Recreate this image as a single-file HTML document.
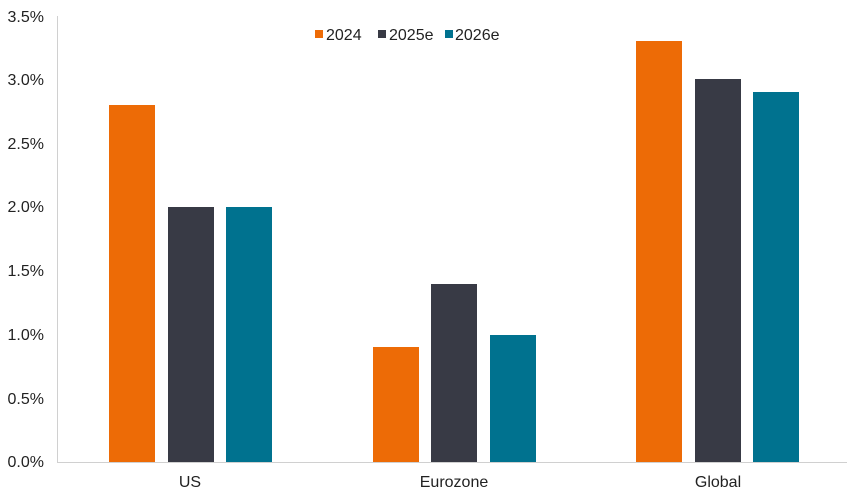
<!DOCTYPE html>
<html><head><style>body{margin:0;background:#fff}</style></head><body>
<svg width="854" height="497" xmlns="http://www.w3.org/2000/svg" font-family="Liberation Sans, sans-serif" font-size="16" fill="#222">
<line x1="57.5" y1="16" x2="57.5" y2="462" stroke="#d0d0d0"/>
<line x1="57" y1="462.5" x2="847" y2="462.5" stroke="#d0d0d0"/>
<g text-anchor="end">
<text x="44" y="22">3.5%</text><text x="44" y="85">3.0%</text><text x="44" y="149">2.5%</text><text x="44" y="212">2.0%</text><text x="44" y="276">1.5%</text><text x="44" y="340">1.0%</text><text x="44" y="404">0.5%</text><text x="44" y="467">0.0%</text>
</g>
<g fill="#ED6B06">
<rect x="109" y="105" width="46" height="357"/><rect x="373" y="347" width="46" height="115"/><rect x="636" y="41" width="46" height="421"/>
</g>
<g fill="#383A45">
<rect x="168" y="207" width="46" height="255"/><rect x="431" y="284" width="46" height="178"/><rect x="695" y="79" width="46" height="383"/>
</g>
<g fill="#00728F">
<rect x="226" y="207" width="46" height="255"/><rect x="490" y="335" width="46" height="127"/><rect x="753" y="92" width="46" height="370"/>
</g>
<g text-anchor="middle">
<text x="190" y="487">US</text><text x="454" y="487">Eurozone</text><text x="718" y="487">Global</text>
</g>
<rect x="315" y="30" width="8" height="8" fill="#ED6B06"/><text x="326" y="40">2024</text>
<rect x="378" y="30" width="8" height="8" fill="#383A45"/><text x="389" y="40">2025e</text>
<rect x="445" y="30" width="8" height="8" fill="#00728F"/><text x="455" y="40">2026e</text>
</svg>
</body></html>
